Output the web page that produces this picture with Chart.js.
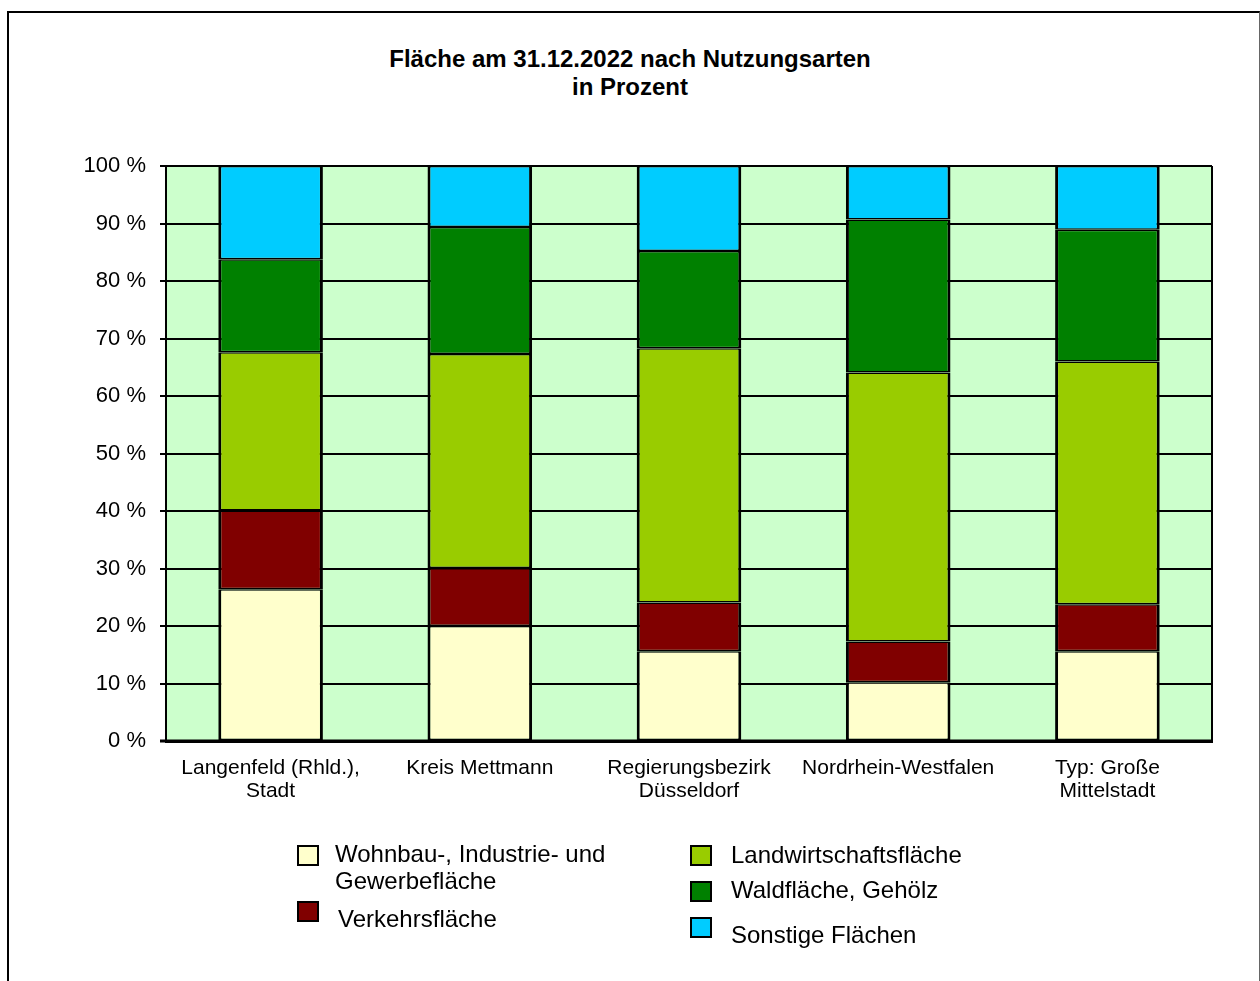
<!DOCTYPE html>
<html>
<head>
<meta charset="utf-8">
<script src="https://cdn.jsdelivr.net/npm/chart.js@4/dist/chart.umd.min.js"></script>
<style>
  html, body { margin:0; padding:0; background:#fff; }
  body { width:1260px; height:981px; position:relative; overflow:hidden; font-family:"Liberation Sans", Arial, sans-serif; }
  #frame { position:absolute; left:7px; top:11px; width:1250px; height:1000px; border-left:2px solid #000; border-top:2px solid #000; border-right:1px solid #666; }
  #title { position:absolute; left:0; top:45px; width:1260px; text-align:center; font-weight:bold; font-size:24px; line-height:28px; color:#000; }
  #wrap { position:absolute; left:0; top:0; width:1260px; height:981px; }
  .lg { position:absolute; font-size:24px; line-height:27px; color:#000; }
  .box { position:absolute; width:18px; height:17px; border:2px solid #000; }
</style>
</head>
<body>
<div id="frame"></div>
<div id="title">Fläche am 31.12.2022 nach Nutzungsarten<br>in Prozent</div>
<div id="wrap"><canvas id="c" width="1260" height="981"></canvas></div>
<div id="legend"></div>
<script>
const categories = [["Langenfeld (Rhld.),","Stadt"], "Kreis Mettmann", ["Regierungsbezirk","Düsseldorf"], "Nordrhein-Westfalen", ["Typ: Große","Mittelstadt"]];
const seriesNames = ["Wohnbau-, Industrie- und Gewerbefläche", "Verkehrsfläche", "Landwirtschaftsfläche", "Waldfläche, Gehölz", "Sonstige Flächen"];
const wohnbau = [26.4, 20.0, 15.6, 10.2, 15.6];
const verkehr = [13.7, 10.1, 8.5, 7.1, 8.2];
const landwirtschaft = [27.5, 37.2, 44.2, 46.8, 42.2];
const wald = [16.2, 22.1, 16.9, 26.6, 22.9];
const sonstige = [16.2, 10.6, 14.8, 9.3, 11.1];
const yTicks = [0, 10, 20, 30, 40, 50, 60, 70, 80, 90, 100];
const colors = ["#FFFFCC", "#800000", "#99CC00", "#008000", "#00CCFF"];

const allSeries = [wohnbau, verkehr, landwirtschaft, wald, sonstige];

const bgPlugin = {
  id: 'bg',
  beforeDraw(chart) {
    const a = chart.chartArea, ctx = chart.ctx;
    ctx.save(); ctx.fillStyle = '#CCFFCC';
    ctx.fillRect(a.left, a.top, a.right - a.left, a.bottom - a.top);
    ctx.restore();
  },
  afterDraw(chart) {
    const a = chart.chartArea, ctx = chart.ctx;
    ctx.save(); ctx.strokeStyle = '#000'; ctx.lineWidth = 2;
    ctx.beginPath();
    ctx.moveTo(a.right, a.top); ctx.lineTo(a.right, a.bottom);
    ctx.moveTo(a.left, a.top); ctx.lineTo(a.right, a.top);
    ctx.stroke();
    ctx.lineWidth = 3;
    ctx.beginPath(); ctx.moveTo(a.left - 6, a.bottom); ctx.lineTo(a.right + 1, a.bottom); ctx.stroke();
    ctx.restore();
  }
};

const chart = new Chart(document.getElementById('c'), {
  type: 'bar',
  data: {
    labels: categories,
    datasets: allSeries.map((d, i) => ({
      label: seriesNames[i],
      data: d,
      backgroundColor: colors[i],
      borderColor: '#000',
      borderWidth: { top: 1.5, bottom: 1.5, left: 3, right: 3 },
      borderSkipped: false,
      inflateAmount: 0,
      categoryPercentage: 1.0,
      barPercentage: 0.5
    }))
  },
  options: {
    responsive: false,
    animation: false,
    events: [],
    layout: { padding: { left: 66, top: 166, right: 48, bottom: 160 } },
    plugins: { legend: { display: false }, title: { display: false }, tooltip: { enabled: false } },
    scales: {
      x: {
        stacked: true,
        grid: { display: false, drawTicks: false },
        border: { display: true, color: '#000', width: 3 },
        ticks: { color: '#000', font: { family: '"Liberation Sans", Arial, sans-serif', size: 21, lineHeight: 1.1 }, padding: 16, maxRotation: 0, autoSkip: false },
        afterFit(scale) { scale.height = 80; }
      },
      y: {
        stacked: true,
        min: 0, max: 100,
        afterBuildTicks(scale) { scale.ticks = yTicks.map(v => ({ value: v })); },
        grid: { color: '#000', lineWidth: 2, drawTicks: true, tickLength: 6 },
        border: { display: true, color: '#000', width: 2 },
        ticks: { color: '#000', font: { family: '"Liberation Sans", Arial, sans-serif', size: 22 }, padding: 14, callback: v => v + ' %' },
        afterFit(scale) { scale.width = 100; }
      }
    }
  },
  plugins: [bgPlugin]
});

// HTML legend built from the datasets
const legendPos = [
  { bx: 297, by: 845, tx: 335, ty: 840 },
  { bx: 297, by: 901, tx: 338, ty: 905 },
  { bx: 690, by: 845, tx: 731, ty: 841 },
  { bx: 690, by: 881, tx: 731, ty: 876 },
  { bx: 690, by: 917, tx: 731, ty: 921 }
];
const lg = document.getElementById('legend');
chart.data.datasets.forEach((ds, i) => {
  const p = legendPos[i];
  const b = document.createElement('div');
  b.className = 'box'; b.style.left = p.bx + 'px'; b.style.top = p.by + 'px'; b.style.background = ds.backgroundColor;
  lg.appendChild(b);
  const t = document.createElement('div');
  t.className = 'lg'; t.style.left = p.tx + 'px'; t.style.top = p.ty + 'px';
  if (i === 0) { t.innerHTML = 'Wohnbau-, Industrie- und<br>Gewerbefläche'; } else { t.textContent = ds.label; }
  lg.appendChild(t);
});
</script>
</body>
</html>
